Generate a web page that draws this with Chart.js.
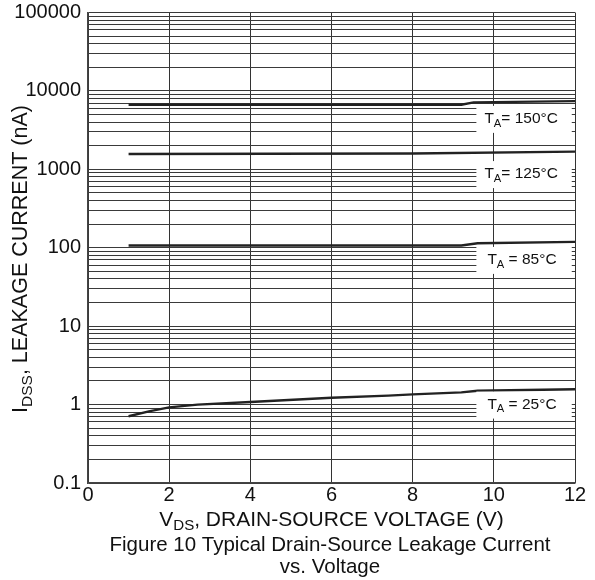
<!DOCTYPE html>
<html>
<head>
<meta charset="UTF-8">
<title>Figure 10 Typical Drain-Source Leakage Current vs. Voltage</title>
<script src="https://cdn.jsdelivr.net/npm/chart.js"></script>
<style>
    body { margin: 0; background: #fff; }
    #wrap { width: 595px; height: 580px; position: relative; }
</style>
</head>
<body>
<div id="wrap"><canvas id="leak"></canvas></div>
<script>
// values (V in volts, I in nA)
const vds150 = [1, 9.2, 9.5, 12];
const idss150 = [6670, 6670, 7150, 7420];
const vds125 = [1, 8, 12];
const idss125 = [1570, 1590, 1680];
const vds85 = [1, 9.2, 9.6, 12];
const idss85 = [107, 107, 114, 119];
const vds25 = [1, 1.5, 2, 2.7, 4, 6, 7.4, 8, 9.2, 9.6, 12];
const idss25 = [0.71, 0.82, 0.92, 1.0, 1.08, 1.22, 1.3, 1.35, 1.43, 1.5, 1.57];

const xTicks = [0, 2, 4, 6, 8, 10, 12];
const yTickValues = [0.1, 1, 10, 100, 1000, 10000, 100000];
const yTickLabels = ['0.1', '1', '10', '100', '1000', '10000', '100000'];

// curve labels: text after "T" + subscript "A", and the current level they sit at
const tempText = ['= 150°C', '= 125°C', ' = 85°C', ' = 25°C'];
const tempLabelAt = [4400, 870, 70, 1.0];

const FONT = "'Liberation Sans', Arial, sans-serif";

function pts(xs, ys) {
    return xs.map((x, i) => ({ x: x, y: ys[i] }));
}

// all grid values 1..9 x 10^n
function logGrid() {
    let out = [];
    for (let e = -1; e < 5; e++) {
        for (let k = 1; k < 10; k++) out.push(Number((k * Math.pow(10, e)).toPrecision(3)));
    }
    out.push(100000);
    return out;
}

// subscripted text helper: parts = [[text, isSub], ...]
function drawParts(ctx, parts, x, y, size) {
    let cx = x;
    parts.forEach(p => {
        let s = p[1] ? size * 0.72 : size;
        ctx.font = s + 'px ' + FONT;
        ctx.fillText(p[0], cx, p[1] ? y + size * 0.3 : y);
        cx += ctx.measureText(p[0]).width;
    });
}
function partsWidth(ctx, parts, size) {
    let w = 0;
    parts.forEach(p => {
        ctx.font = (p[1] ? size * 0.72 : size) + 'px ' + FONT;
        w += ctx.measureText(p[0]).width;
    });
    return w;
}

const extras = {
    id: 'extras',
    afterDatasetsDraw(chart) {
        const ctx = chart.ctx;
        const xs = chart.scales.x, ys = chart.scales.y;
        ctx.save();
        ctx.textBaseline = 'middle';
        ctx.fillStyle = '#111';
        // curve labels in white boxes
        tempText.forEach((t, i) => {
            const cy = ys.getPixelForValue(tempLabelAt[i]);
            const x0 = xs.getPixelForValue(9.57);
            const x1 = xs.getPixelForValue(11.92);
            ctx.fillStyle = '#fff';
            ctx.fillRect(x0, cy - 13, x1 - x0, 27);
            ctx.fillStyle = '#111';
            drawParts(ctx, [['T', false], ['A', true], [t, false]], x0 + (i < 2 ? 8 : 11), cy, 15.5);
        });
        const area = chart.chartArea;
        // x axis title
        const xp = [['V', false], ['DS', true], [', DRAIN-SOURCE VOLTAGE (V)', false]];
        const xw = partsWidth(ctx, xp, 21);
        drawParts(ctx, xp, (area.left + area.right) / 2 - xw / 2, 520, 21);
        // caption
        ctx.font = '20.5px ' + FONT;
        ctx.textAlign = 'center';
        ctx.fillText('Figure 10 Typical Drain-Source Leakage Current', 330, 545);
        ctx.fillText('vs. Voltage', 330, 567);
        ctx.textAlign = 'left';
        // y axis title (rotated)
        const yp = [['I', false], ['DSS', true], [', LEAKAGE CURRENT (nA)', false]];
        const yw = partsWidth(ctx, yp, 21.5);
        ctx.translate(21, 259);
        ctx.rotate(-Math.PI / 2);
        drawParts(ctx, yp, -yw / 2, 0, 21.5);
        ctx.restore();
    }
};

const lineStyle = { borderColor: '#222', borderWidth: 2.4, pointRadius: 0, fill: false, tension: 0 };

new Chart(document.getElementById('leak'), {
    type: 'line',
    data: {
        datasets: [
            Object.assign({ label: 'TA = 150°C', data: pts(vds150, idss150) }, lineStyle),
            Object.assign({ label: 'TA = 125°C', data: pts(vds125, idss125) }, lineStyle),
            Object.assign({ label: 'TA = 85°C', data: pts(vds85, idss85) }, lineStyle),
            Object.assign({ label: 'TA = 25°C', data: pts(vds25, idss25) }, lineStyle)
        ]
    },
    options: {
        responsive: true,
        maintainAspectRatio: false,
        animation: false,
        layout: { padding: { top: 12.5, right: 20, left: 0, bottom: 0 } },
        plugins: { legend: { display: false }, tooltip: { enabled: false } },
        scales: {
            x: {
                type: 'linear',
                min: 0,
                max: 12,
                afterBuildTicks: s => { s.ticks = xTicks.map(v => ({ value: v })); },
                afterFit: s => { s.height = 97; s.paddingRight = 0; s.paddingLeft = 0; },
                grid: { color: '#333', lineWidth: 1, drawTicks: false },
                border: { color: '#444', width: 1.5 },
                ticks: { color: '#111', padding: 0, font: { family: FONT, size: 20 } }
            },
            y: {
                type: 'logarithmic',
                min: 0.1,
                max: 100000,
                afterBuildTicks: s => { s.ticks = logGrid().map(v => ({ value: v })); },
                afterFit: s => { s.width = 88; s.paddingTop = 0; s.paddingBottom = 0; },
                grid: { color: '#3a3a3a', lineWidth: 1, drawTicks: false },
                border: { color: '#444', width: 1.5 },
                ticks: {
                    color: '#111',
                    padding: 7,
                    autoSkip: false,
                    font: { family: FONT, size: 20 },
                    callback: v => {
                        const i = yTickValues.findIndex(t => Math.abs(Math.log10(t) - Math.log10(v)) < 1e-6);
                        return i >= 0 ? yTickLabels[i] : '';
                    }
                }
            }
        }
    },
    plugins: [extras]
});
</script>
</body>
</html>
